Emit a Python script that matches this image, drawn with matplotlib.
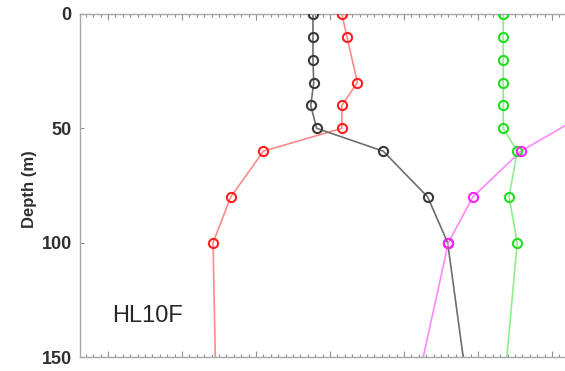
import matplotlib
matplotlib.use("Agg")
import matplotlib.pyplot as plt
from matplotlib.ticker import MultipleLocator, NullFormatter

plt.rcParams["font.family"] = ["Liberation Sans", "DejaVu Sans"]

# profiles (depth in m, x in a shared plotting scale)
black_depth = [0, 10, 20, 30, 40, 50, 60, 80, 100, 150]
black_x = [2.77, 2.77, 2.77, 2.78, 2.74, 2.82, 3.72, 4.32, 4.59, 4.80]

red_depth = [0, 10, 30, 40, 50, 60, 80, 100, 150]
red_x = [3.16, 3.23, 3.37, 3.16, 3.16, 2.10, 1.66, 1.42, 1.45]

green_depth = [0, 10, 20, 30, 40, 50, 60, 80, 100, 150]
green_x = [5.34, 5.34, 5.34, 5.34, 5.34, 5.34, 5.53, 5.42, 5.53, 5.39]

magenta_depth = [40, 60, 80, 100, 150]
magenta_x = [6.65, 5.58, 4.93, 4.60, 4.26]

series = [
    (red_x, red_depth, "#ff8a8a", "#ff2020"),
    (black_x, black_depth, "#6e6e6e", "#3a3a3a"),
    (green_x, green_depth, "#8cf08c", "#22dd22"),
    (magenta_x, magenta_depth, "#ff88ff", "#ff22ff"),
]

fig = plt.figure(figsize=(5.65, 3.71), dpi=100)
ax = fig.add_axes([80 / 565, 14 / 371, 546 / 565, 343 / 371])

for xs, ds, line_color, marker_color in series:
    ax.plot(xs, ds, color=line_color, linewidth=1.2, zorder=2)
    # last point sits on/below the bottom axis, no marker shown there
    ax.plot(
        xs[:-1], ds[:-1], linestyle="none", marker="o", markersize=6.6,
        markerfacecolor="none", markeredgecolor=marker_color,
        markeredgewidth=1.5, zorder=3,
    )

ax.set_xlim(-0.378, 7.0)
ax.set_ylim(150, 0)
ax.set_yticks([0, 50, 100, 150])
ax.xaxis.set_major_locator(MultipleLocator(1))
ax.xaxis.set_minor_locator(MultipleLocator(0.1))
ax.xaxis.set_major_formatter(NullFormatter())

spine_color = "#a8a8a8"
for side in ["left", "top", "bottom"]:
    ax.spines[side].set_color(spine_color)
    ax.spines[side].set_linewidth(1.0)
ax.spines["right"].set_visible(False)

ax.tick_params(axis="x", which="both", direction="in", top=True, bottom=True,
               color="#909090", width=0.8)
ax.tick_params(axis="x", which="major", length=4)
ax.tick_params(axis="x", which="minor", length=2.2)
ax.tick_params(axis="y", which="major", direction="in", left=True, right=False,
               length=3, color="#909090", labelsize=13, labelcolor="#303030", pad=6)
for label in ax.get_yticklabels():
    label.set_fontweight("bold")

ax.set_ylabel("Depth (m)", fontsize=12, fontweight="bold", color="#303030")
ax.yaxis.set_label_coords(-0.078, 0.49)

ax.text(0.05, 134.6, "HL10F", fontsize=17, color="#262626", ha="left", va="baseline")

fig.savefig("out.png", dpi=100)
